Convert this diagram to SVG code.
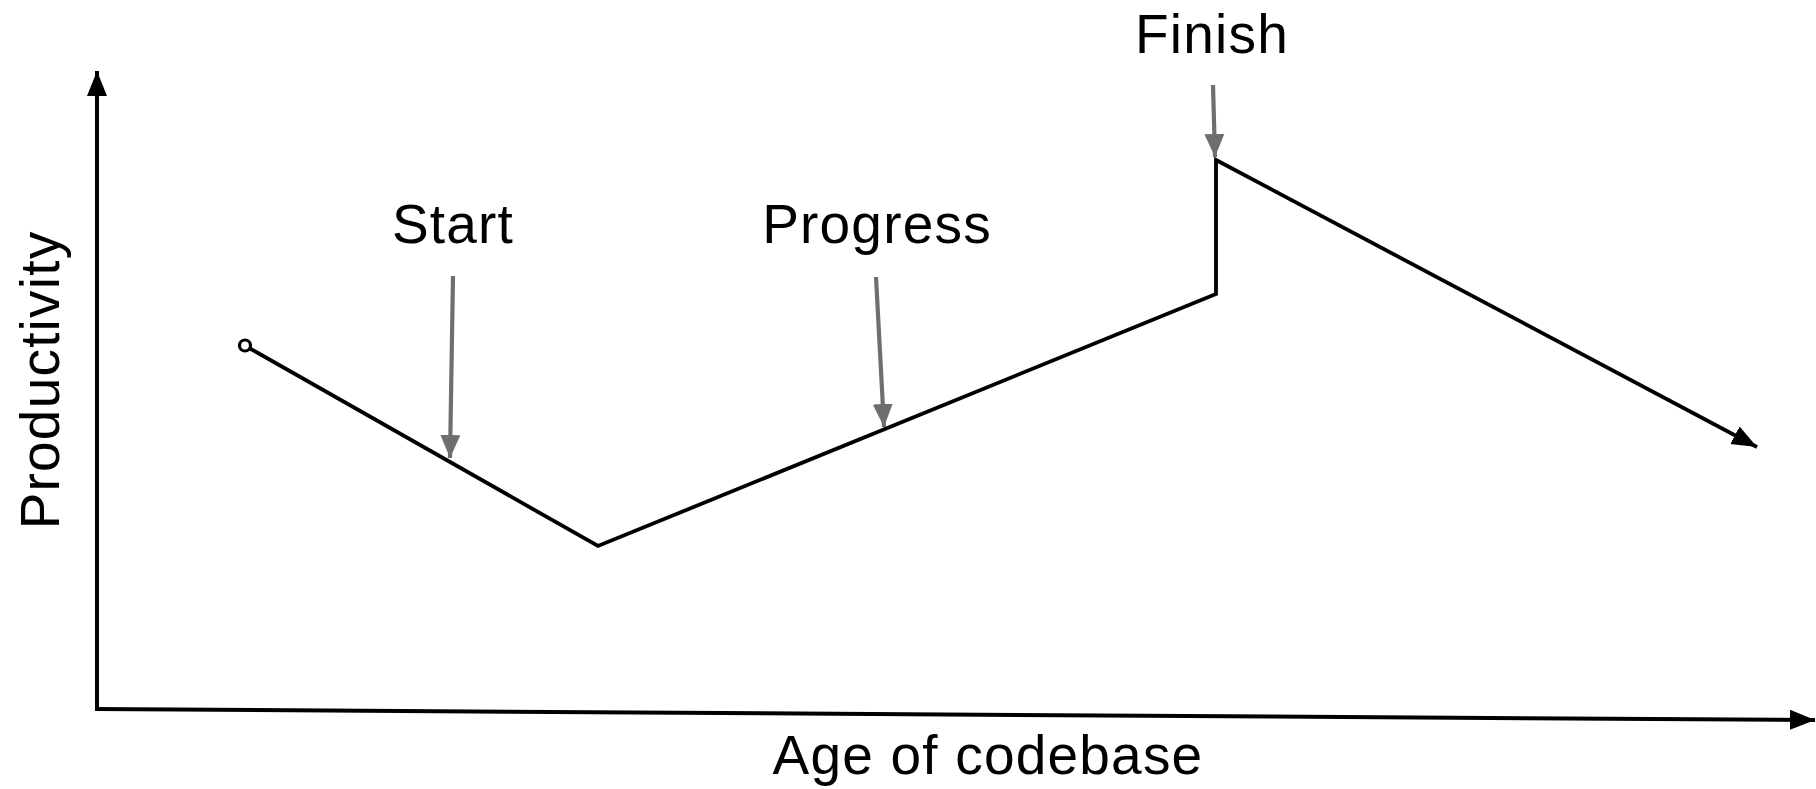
<svg xmlns="http://www.w3.org/2000/svg" width="1816" height="789" viewBox="0 0 1816 789">
<style>
.lbl{font-family:"Liberation Sans",Arial,sans-serif;font-size:55px;letter-spacing:1.2px;fill:#000;text-anchor:middle}
.ax{stroke:#000;stroke-width:4;fill:none}
.ln{stroke:#000;stroke-width:3.8;fill:none;stroke-linejoin:miter}
.ptr{stroke:#6e6e6e;stroke-width:4.2;fill:none}
</style>
<defs>
<marker id="ah" markerUnits="userSpaceOnUse" markerWidth="26" markerHeight="22" refX="25" refY="10" orient="auto" viewBox="0 0 26 20">
<path d="M0,0 L25,10 L0,20 Z" fill="#000"/>
</marker>
<marker id="gh" markerUnits="userSpaceOnUse" markerWidth="24" markerHeight="22" refX="23" refY="10" orient="auto" viewBox="0 0 24 20">
<path d="M0,0 L23,10 L0,20 Z" fill="#6e6e6e"/>
</marker>
</defs>
<rect width="1816" height="789" fill="#fff"/>
<g id="axes">
<line class="ax" x1="97" y1="709" x2="97" y2="71" marker-end="url(#ah)"/>
<line class="ax" x1="95" y1="709" x2="1815" y2="720" marker-end="url(#ah)"/>
</g>
<g id="connectors">
<circle cx="245" cy="345.5" r="5.5" fill="#fff" stroke="#000" stroke-width="3.2"/>
<polyline class="ln" points="250,348.5 598,546 1216,294 1216,160 1757,447" marker-end="url(#ah)"/>
<line class="ptr" x1="453" y1="276" x2="450" y2="458" marker-end="url(#gh)"/>
<line class="ptr" x1="876" y1="277" x2="884" y2="427" marker-end="url(#gh)"/>
<line class="ptr" x1="1213" y1="85" x2="1215" y2="157" marker-end="url(#gh)"/>
</g>
<g id="label-start"><text class="lbl" x="453" y="243">Start</text></g>
<g id="label-progress"><text class="lbl" x="877" y="243">Progress</text></g>
<g id="label-finish"><text class="lbl" x="1212" y="53">Finish</text></g>
<g id="label-x"><text class="lbl" x="988" y="774">Age of codebase</text></g>
<g id="label-y"><text class="lbl" transform="translate(59,380) rotate(-90)" x="0" y="0">Productivity</text></g>
</svg>
